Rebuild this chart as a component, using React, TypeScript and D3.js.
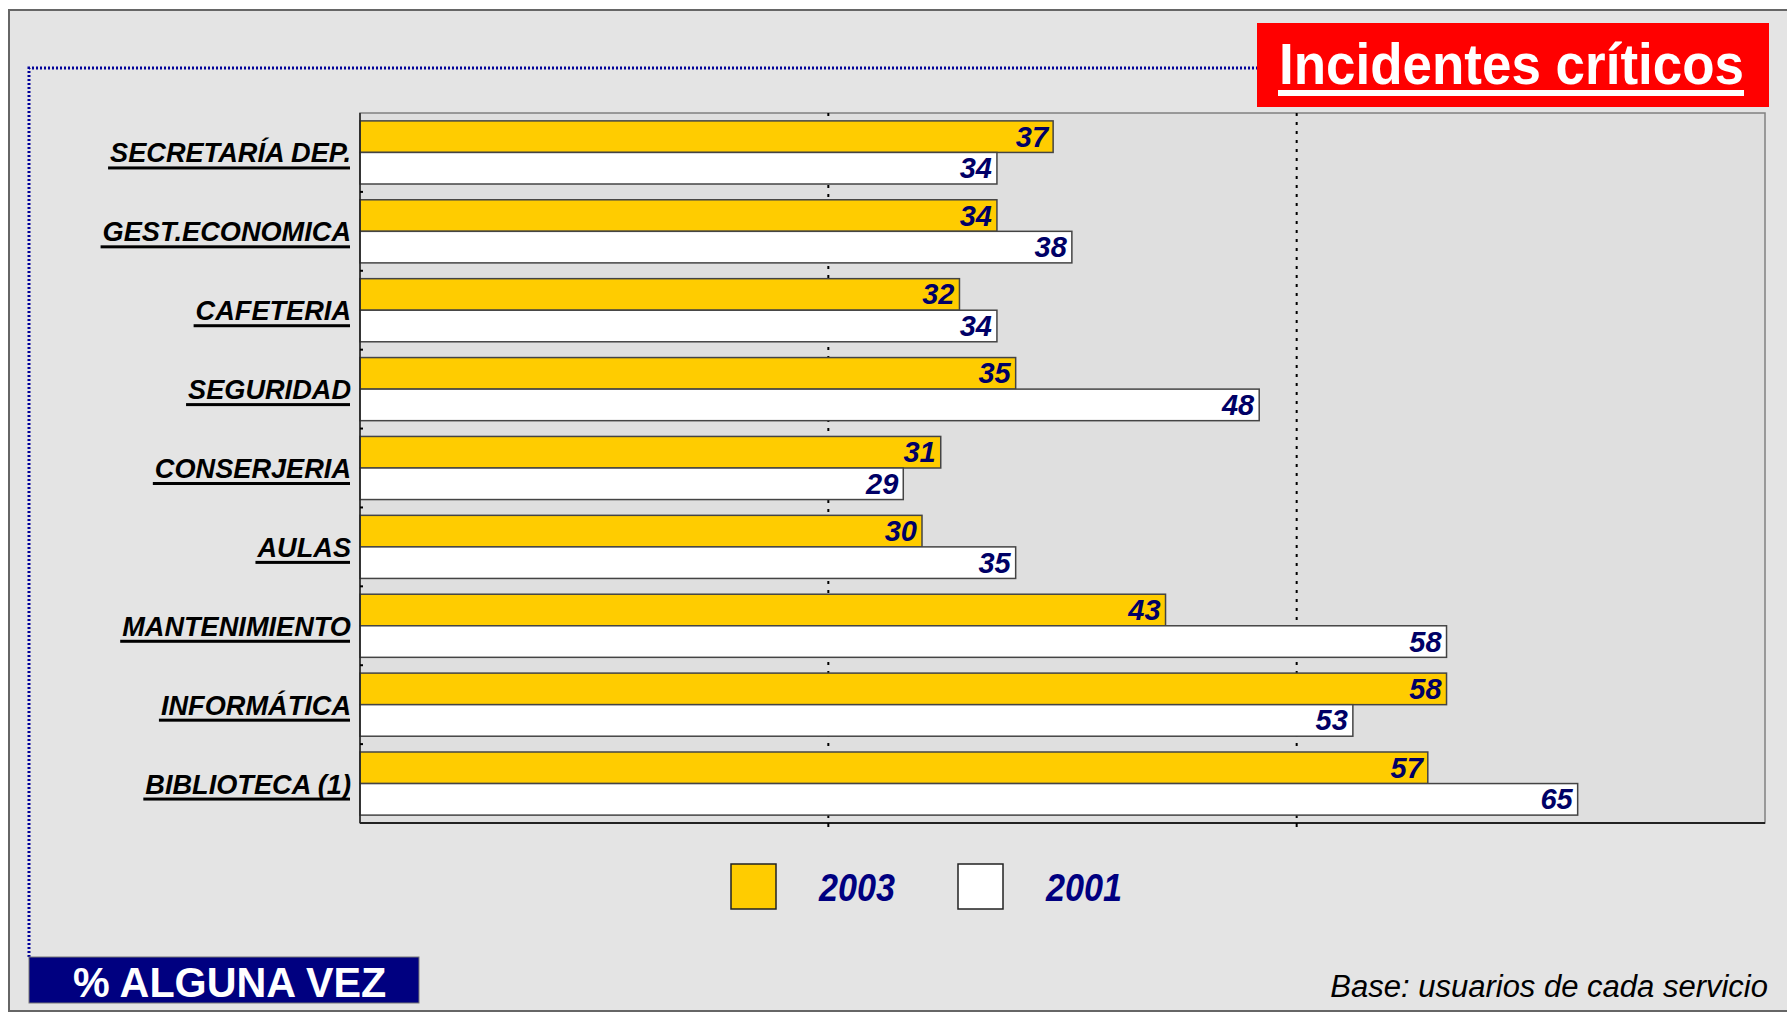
import React, { useEffect, useRef } from "react";
import * as d3 from "d3";

// data
const categories = [
  "SECRETARÍA DEP.",
  "GEST.ECONOMICA",
  "CAFETERIA",
  "SEGURIDAD",
  "CONSERJERIA",
  "AULAS",
  "MANTENIMIENTO",
  "INFORMÁTICA",
  "BIBLIOTECA (1)",
];
const seriesNames = ["2003", "2001"];
const values2003 = [37, 34, 32, 35, 31, 30, 43, 58, 57];
const values2001 = [34, 38, 34, 48, 29, 35, 58, 53, 65];
const gridTicks = [25, 50];

const W = 1787;
const H = 1013;
const FONT = "'Liberation Sans', Arial, Helvetica, sans-serif";

export default function App() {
  const ref = useRef<SVGSVGElement>(null);

  useEffect(() => {
    document.body.style.margin = "0";
    const svg = d3.select(ref.current);
    svg.selectAll("*").remove();

    // outer frame
    svg.append("rect")
      .attr("x", 9).attr("y", 10)
      .attr("width", 1800).attr("height", 1001)
      .attr("fill", "#e4e4e4")
      .attr("stroke", "#666").attr("stroke-width", 2);

    // blue dotted border (top and left)
    svg.append("path")
      .attr("d", "M29,957 L29,68 L1257,68")
      .attr("fill", "none")
      .attr("stroke", "#000099")
      .attr("stroke-width", 3)
      .attr("stroke-dasharray", "2,2");

    const plot = { left: 360, right: 1765, top: 113, bottom: 823 };

    // scales
    const x = d3.scaleLinear().domain([0, 75]).range([plot.left, plot.right]);
    const y = d3.scaleBand<string>()
      .domain(categories)
      .range([plot.top, plot.bottom])
      .paddingInner(0.2)
      .paddingOuter(0.1);
    const ySub = d3.scaleBand<string>()
      .domain(seriesNames)
      .range([0, y.bandwidth()]);
    const colors = d3.scaleOrdinal<string, string>()
      .domain(seriesNames)
      .range(["#ffcc00", "#ffffff"]);

    // plot area
    svg.append("rect")
      .attr("x", plot.left).attr("y", plot.top)
      .attr("width", plot.right - plot.left).attr("height", plot.bottom - plot.top)
      .attr("fill", "#dfdfdf")
      .attr("stroke", "#808080").attr("stroke-width", 1.5);

    // dotted gridlines
    svg.append("g")
      .selectAll("line")
      .data(gridTicks)
      .enter()
      .append("line")
      .attr("x1", (d) => x(d)).attr("x2", (d) => x(d))
      .attr("y1", plot.top).attr("y2", plot.bottom)
      .attr("stroke", "#000")
      .attr("stroke-width", 2)
      .attr("stroke-dasharray", "3,6");

    // bars
    const rows = categories.map((c, i) => ({ cat: c, vals: [values2003[i], values2001[i]] }));
    const group = svg.append("g")
      .selectAll("g")
      .data(rows)
      .enter()
      .append("g")
      .attr("transform", (d) => "translate(0," + y(d.cat) + ")");

    group.selectAll("rect")
      .data((d) => d.vals.map((v, j) => ({ key: seriesNames[j], v })))
      .enter()
      .append("rect")
      .attr("x", x(0))
      .attr("y", (d) => ySub(d.key)!)
      .attr("width", (d) => x(d.v) - x(0))
      .attr("height", ySub.bandwidth())
      .attr("fill", (d) => colors(d.key))
      .attr("stroke", "#444")
      .attr("stroke-width", 1.5);

    // value labels
    group.selectAll("text")
      .data((d) => d.vals.map((v, j) => ({ key: seriesNames[j], v })))
      .enter()
      .append("text")
      .attr("x", (d) => x(d.v) - 5)
      .attr("y", (d) => ySub(d.key)! + ySub.bandwidth() / 2 + 10)
      .attr("text-anchor", "end")
      .style("font-family", FONT)
      .style("font-size", "29px")
      .style("font-weight", "bold")
      .style("font-style", "italic")
      .attr("fill", "#000066")
      .text((d) => d.v);

    // axes lines
    svg.append("line")
      .attr("x1", plot.left).attr("x2", plot.left)
      .attr("y1", plot.top).attr("y2", plot.bottom)
      .attr("stroke", "#222").attr("stroke-width", 1.5);
    svg.append("line")
      .attr("x1", plot.left).attr("x2", plot.right)
      .attr("y1", plot.bottom).attr("y2", plot.bottom)
      .attr("stroke", "#222").attr("stroke-width", 2);

    // small ticks between categories
    const step = y.step();
    svg.append("g")
      .selectAll("line")
      .data(d3.range(1, categories.length))
      .enter()
      .append("line")
      .attr("x1", plot.left).attr("x2", plot.left + 3)
      .attr("y1", (i) => plot.top + i * step).attr("y2", (i) => plot.top + i * step)
      .attr("stroke", "#000").attr("stroke-width", 2);
    svg.append("g")
      .selectAll("line")
      .data(gridTicks)
      .enter()
      .append("line")
      .attr("x1", (d) => x(d)).attr("x2", (d) => x(d))
      .attr("y1", plot.bottom).attr("y2", plot.bottom + 4)
      .attr("stroke", "#000").attr("stroke-width", 2);

    // category labels, underlined by hand
    const labelScale = 0.97;
    const labels = svg.append("g")
      .selectAll("g")
      .data(categories)
      .enter()
      .append("g")
      .attr("transform", (d) => "translate(351," + (y(d)! + y.bandwidth() / 2 + 10) + ")");
    labels.append("text")
      .attr("transform", "scale(" + labelScale + ",1)")
      .attr("text-anchor", "end")
      .style("font-family", FONT)
      .style("font-size", "28px")
      .style("font-weight", "bold")
      .style("font-style", "italic")
      .attr("fill", "#000")
      .text((d) => d);
    labels.each(function () {
      const g = d3.select(this);
      const len = (g.select("text").node() as SVGTextElement).getComputedTextLength() * labelScale;
      g.append("rect")
        .attr("x", -len - 2).attr("y", 4)
        .attr("width", len + 1).attr("height", 3)
        .attr("fill", "#000");
    });

    // title box
    svg.append("rect")
      .attr("x", 1257).attr("y", 23)
      .attr("width", 512).attr("height", 84)
      .attr("fill", "#ff0000");
    svg.append("text")
      .attr("x", 1279).attr("y", 84)
      .attr("textLength", 465)
      .attr("lengthAdjust", "spacingAndGlyphs")
      .style("font-family", FONT)
      .style("font-size", "57px")
      .style("font-weight", "bold")
      .attr("fill", "#fff")
      .text("Incidentes críticos");
    svg.append("rect")
      .attr("x", 1278).attr("y", 90)
      .attr("width", 466).attr("height", 6)
      .attr("fill", "#fff");

    // legend
    const legend = svg.append("g")
      .selectAll("g")
      .data(seriesNames)
      .enter()
      .append("g")
      .attr("transform", (d, i) => "translate(731," + 864 + ")translate(" + i * 227 + ",0)");
    legend.append("rect")
      .attr("width", 45).attr("height", 45)
      .attr("fill", (d) => colors(d))
      .attr("stroke", "#222").attr("stroke-width", 1.5);
    legend.append("text")
      .attr("transform", "translate(88,37) scale(0.9,1)")
      .style("font-family", FONT)
      .style("font-size", "38px")
      .style("font-weight", "bold")
      .style("font-style", "italic")
      .attr("fill", "#000080")
      .text((d) => d);

    // bottom-left label
    svg.append("rect")
      .attr("x", 29).attr("y", 957)
      .attr("width", 390).attr("height", 46)
      .attr("fill", "#000080")
      .attr("stroke", "#777").attr("stroke-width", 1);
    svg.append("text")
      .attr("transform", "translate(73,997) scale(0.96,1)")
      .style("font-family", FONT)
      .style("font-size", "43px")
      .style("font-weight", "bold")
      .attr("fill", "#fff")
      .text("% ALGUNA VEZ");

    // footnote
    svg.append("text")
      .attr("x", 1768).attr("y", 997)
      .attr("text-anchor", "end")
      .style("font-family", FONT)
      .style("font-size", "31px")
      .style("font-style", "italic")
      .attr("fill", "#000")
      .text("Base: usuarios de cada servicio");
  }, []);

  return (
    <svg ref={ref} width={W} height={H} style={{ position: "absolute", left: 0, top: 0 }}></svg>
  );
}
